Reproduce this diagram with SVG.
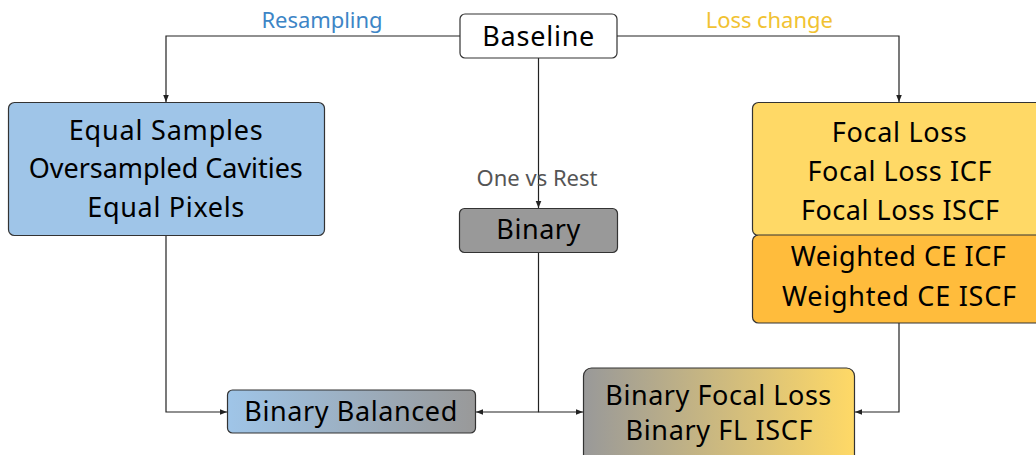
<svg xmlns="http://www.w3.org/2000/svg" width="1036" height="455" viewBox="0 0 1036 455">
<style>
.box{stroke:#333;stroke-width:1.2}
.t{font-family:"Noto Sans","Open Sans",sans-serif;font-size:27px;fill:#000;text-anchor:middle}
.lbl{font-family:"Noto Sans","Open Sans",sans-serif;font-size:22px;text-anchor:middle}
.c{fill:none;stroke:#222;stroke-width:1.2}
</style>
<defs>
<marker id="a" viewBox="0 0 10 10" refX="10" refY="5" markerWidth="7" markerHeight="7" markerUnits="userSpaceOnUse" orient="auto"><path d="M0,1 L10,5 L0,9 z" fill="#222"/></marker>
<linearGradient id="g1" x1="0" y1="0" x2="1" y2="0"><stop offset="0" stop-color="#9FC5E8"/><stop offset="1" stop-color="#999999"/></linearGradient>
<linearGradient id="g2" x1="0" y1="0" x2="1" y2="0"><stop offset="0" stop-color="#999999"/><stop offset="1" stop-color="#FFD966"/></linearGradient>
</defs>
<g id="connectors">
<path class="c" d="M460,36 H166 V102" marker-end="url(#a)"/>
<path class="c" d="M617,36 H899 V102" marker-end="url(#a)"/>
<path class="c" d="M538.5,58 V208" marker-end="url(#a)"/>
<path class="c" d="M538.5,253 V412 H476" marker-end="url(#a)"/>
<path class="c" d="M538.5,412 H583" marker-end="url(#a)"/>
<path class="c" d="M166,235 V412 H227" marker-end="url(#a)"/>
<path class="c" d="M899,323 V412 H855" marker-end="url(#a)"/>
<text class="lbl" x="322" y="28" fill="#3D85C6" textLength="121">Resampling</text>
<text class="lbl" x="769.3" y="28" fill="#F1C232" textLength="127">Loss change</text>
<text class="lbl" x="537" y="186" fill="#555555" textLength="121">One vs Rest</text>
</g>
<g id="baseline">
<rect class="box" x="460" y="14" width="157" height="44" rx="5" fill="#FFFFFF"/>
<text class="t" x="538.3" y="46" textLength="112">Baseline</text>
</g>
<g id="resampling">
<rect class="box" x="8.5" y="102.5" width="316" height="133" rx="6" fill="#9FC5E8"/>
<text class="t" x="165.8" y="140" textLength="194">Equal Samples</text>
<text class="t" x="165.8" y="178" textLength="274">Oversampled Cavities</text>
<text class="t" x="165.8" y="217" textLength="157">Equal Pixels</text>
</g>
<g id="binary">
<rect class="box" x="459.5" y="208.5" width="158" height="44" rx="5" fill="#999999"/>
<text class="t" x="538.3" y="239" textLength="84">Binary</text>
</g>
<g id="loss">
<rect class="box" x="752.5" y="102.5" width="300" height="133" rx="6" fill="#FFD966"/>
<text class="t" x="899.3" y="142" textLength="135">Focal Loss</text>
<text class="t" x="899.5" y="181" textLength="184">Focal Loss ICF</text>
<text class="t" x="900" y="220" textLength="198">Focal Loss ISCF</text>
</g>
<g id="weighted">
<rect class="box" x="752.5" y="235" width="300" height="88" rx="6" fill="#FFBC3C"/>
<text class="t" x="898.3" y="266" textLength="215">Weighted CE ICF</text>
<text class="t" x="899" y="306" textLength="234">Weighted CE ISCF</text>
</g>
<g id="binary-balanced">
<rect class="box" x="227.5" y="390" width="248" height="43" rx="5" fill="url(#g1)"/>
<text class="t" x="350.8" y="421" textLength="213">Binary Balanced</text>
</g>
<g id="binary-focal">
<rect class="box" x="583.5" y="368" width="271" height="95" rx="8" fill="url(#g2)"/>
<text class="t" x="718.3" y="405" textLength="226">Binary Focal Loss</text>
<text class="t" x="719" y="440" textLength="187">Binary FL ISCF</text>
</g>
</svg>
